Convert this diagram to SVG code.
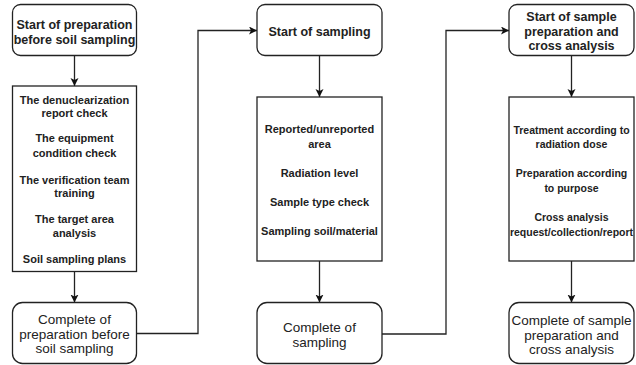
<svg xmlns="http://www.w3.org/2000/svg" width="636" height="365" viewBox="0 0 636 365">
<style>
.box{fill:#fff;stroke:#222;stroke-width:1.3}
.hd{font-family:"Liberation Sans",Arial,sans-serif;font-size:12.5px;font-weight:bold;fill:#222;text-anchor:middle}
.it{font-family:"Liberation Sans",Arial,sans-serif;font-size:11px;font-weight:bold;fill:#222;text-anchor:middle}
.it3{font-family:"Liberation Sans",Arial,sans-serif;font-size:10.5px;font-weight:bold;fill:#222;text-anchor:middle}
.ft{font-family:"Liberation Sans",Arial,sans-serif;font-size:13.5px;fill:#222;text-anchor:middle}
.ln{fill:none;stroke:#222;stroke-width:1.3}
</style>
<defs>
<marker id="ah" markerWidth="10" markerHeight="10" refX="8" refY="4" orient="auto" markerUnits="userSpaceOnUse">
<path d="M0,0 L8,4 L0,8 L2,4 Z" fill="#111"/>
</marker>
</defs>
<rect width="636" height="365" fill="#fff"/>
<g id="connectors">
<line class="ln" x1="74.5" y1="55.5" x2="74.5" y2="86" marker-end="url(#ah)"/>
<line class="ln" x1="74.5" y1="271.5" x2="74.5" y2="302.5" marker-end="url(#ah)"/>
<polyline class="ln" points="136.5,333.5 198,333.5 198,30.5 257,30.5" marker-end="url(#ah)"/>
<line class="ln" x1="319.5" y1="55.5" x2="319.5" y2="97" marker-end="url(#ah)"/>
<line class="ln" x1="319.5" y1="261" x2="319.5" y2="302.5" marker-end="url(#ah)"/>
<polyline class="ln" points="382,334 446,334 446,30.5 509,30.5" marker-end="url(#ah)"/>
<line class="ln" x1="571.5" y1="55.5" x2="571.5" y2="97" marker-end="url(#ah)"/>
<line class="ln" x1="571.5" y1="261" x2="571.5" y2="302.5" marker-end="url(#ah)"/>
</g>
<g id="n1">
<rect class="box" x="12.5" y="4.5" width="124" height="51" rx="8"/>
<text class="hd" x="74.5" y="28.5">Start of preparation</text>
<text class="hd" x="74.5" y="44">before soil sampling</text>
</g>
<g id="n2">
<rect class="box" x="12.5" y="86" width="124" height="185.5"/>
<text class="it" x="74.5" y="104">The denuclearization</text>
<text class="it" x="74.5" y="116.5">report check</text>
<text class="it" x="74.5" y="142">The equipment</text>
<text class="it" x="74.5" y="157">condition check</text>
<text class="it" x="74.5" y="184">The verification team</text>
<text class="it" x="74.5" y="197">training</text>
<text class="it" x="74.5" y="223">The target area</text>
<text class="it" x="74.5" y="237">analysis</text>
<text class="it" x="74.5" y="263">Soil sampling plans</text>
</g>
<g id="n3">
<rect class="box" x="12.5" y="302.5" width="124" height="61" rx="10"/>
<text class="ft" x="74.5" y="324">Complete of</text>
<text class="ft" x="74.5" y="339">preparation before</text>
<text class="ft" x="74.5" y="353">soil sampling</text>
</g>
<g id="n4">
<rect class="box" x="257" y="4.5" width="125" height="51" rx="8"/>
<text class="hd" x="319.5" y="35.5">Start of sampling</text>
</g>
<g id="n5">
<rect class="box" x="257" y="97" width="125" height="164"/>
<text class="it" x="319.5" y="133">Reported/unreported</text>
<text class="it" x="319.5" y="148">area</text>
<text class="it" x="319.5" y="177">Radiation level</text>
<text class="it" x="319.5" y="206">Sample type check</text>
<text class="it" x="319.5" y="235">Sampling soil/material</text>
</g>
<g id="n6">
<rect class="box" x="257" y="302.5" width="125" height="61" rx="10"/>
<text class="ft" x="319.5" y="332">Complete of</text>
<text class="ft" x="319.5" y="347">sampling</text>
</g>
<g id="n7">
<rect class="box" x="509" y="4.5" width="125" height="51" rx="8"/>
<text class="hd" x="571.5" y="20.5">Start of sample</text>
<text class="hd" x="571.5" y="35.5">preparation and</text>
<text class="hd" x="571.5" y="49.5">cross analysis</text>
</g>
<g id="n8">
<rect class="box" x="509" y="97" width="125" height="164"/>
<text class="it3" x="571.5" y="134">Treatment according to</text>
<text class="it3" x="571.5" y="148">radiation dose</text>
<text class="it3" x="571.5" y="177">Preparation according</text>
<text class="it3" x="571.5" y="192">to purpose</text>
<text class="it3" x="571.5" y="221">Cross analysis</text>
<text class="it3" x="571.5" y="236">request/collection/report</text>
</g>
<g id="n9">
<rect class="box" x="509" y="302.5" width="125" height="61" rx="10"/>
<text class="ft" x="571.5" y="325">Complete of sample</text>
<text class="ft" x="571.5" y="340">preparation and</text>
<text class="ft" x="571.5" y="354">cross analysis</text>
</g>
</svg>
